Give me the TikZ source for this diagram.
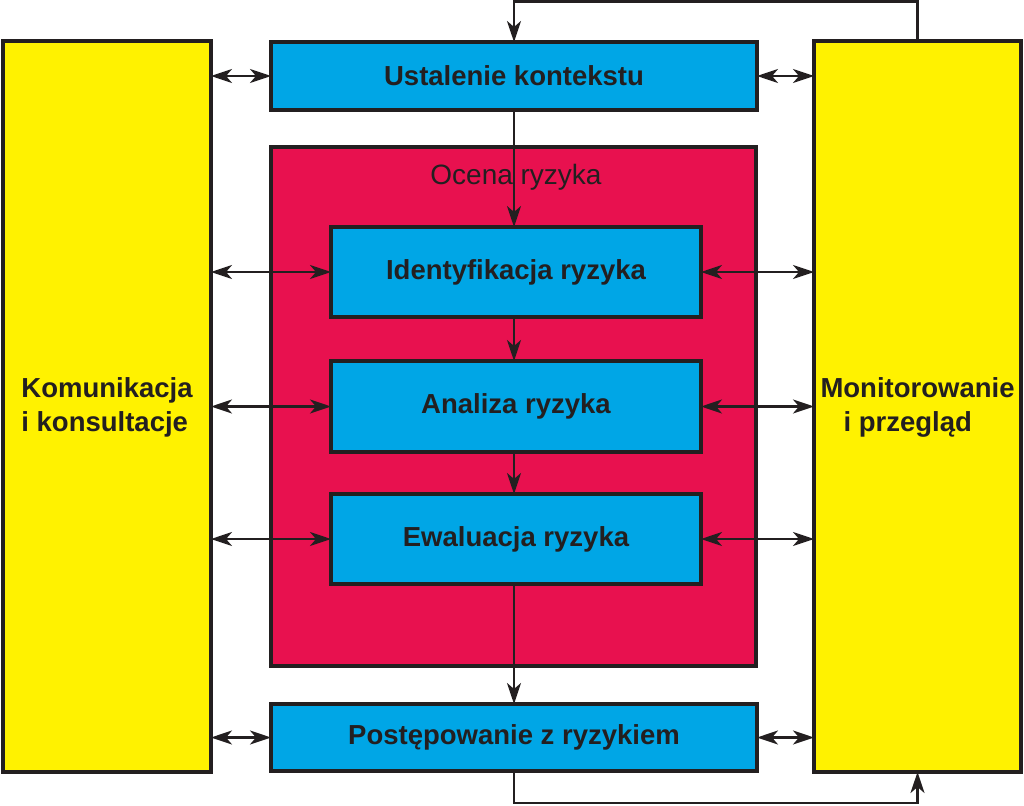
\documentclass[tikz,border=0pt]{standalone}
\usepackage{fontspec}
\setmainfont{Liberation Sans}
\usetikzlibrary{arrows.meta}
\definecolor{ink}{HTML}{231F20}
\definecolor{ryel}{HTML}{FFF200}
\definecolor{rblue}{HTML}{00A6E6}
\definecolor{rred}{HTML}{E8114F}
\begin{document}
\begin{tikzpicture}[x=1pt,y=-1pt,
  box/.style={draw=ink,line width=3.5pt,rectangle,inner sep=0pt,outer sep=0pt,
    text=ink,font=\fontsize{27.5}{34}\selectfont\bfseries},
  sidebox/.style={box,fill=ryel},
  stagebox/.style={box,fill=rblue},
  conn/.style={draw=ink,line width=2.5pt,-{Stealth[length=21pt,width=14pt,inset=6pt]}},
  dbl/.style={draw=ink,line width=2.5pt,{Stealth[length=21pt,width=14pt,inset=6pt]}-{Stealth[length=21pt,width=14pt,inset=6pt]}}]
\useasboundingbox (0,0) rectangle (1024,805);
\fill[white] (0,0) rectangle (1024,805);
% side boxes
\node[sidebox,minimum width=208pt,minimum height=731pt] (komm) at (107,406.5) {};
\node[sidebox,minimum width=207pt,minimum height=731pt] (mon) at (917.5,406.5) {};
\node[text=ink,font=\fontsize{27.5}{34}\selectfont\bfseries,align=left,inner sep=0pt,text depth=0pt] (kommt) at ([yshift=2pt]komm.center) {Komunikacja\\i konsultacje};
\node[text=ink,font=\fontsize{27.5}{34}\selectfont\bfseries,align=left,inner sep=0pt,text depth=0pt] (mont) at ([yshift=2pt]mon.center) {Monitorowanie\\\hspace*{23pt}i przegląd};
% red assessment box
\node[box,fill=rred,minimum width=485pt,minimum height=519pt] (ocena) at (513.5,406.5) {};
\node[text=ink,font=\fontsize{28}{34}\selectfont,anchor=base,inner sep=0pt] (ocenat) at (516,184) {Ocena ryzyka};
% stage boxes
\node[stagebox,minimum width=486pt,minimum height=68pt] (ust) at (514,76) {Ustalenie kontekstu};
\node[stagebox,minimum width=370pt,minimum height=90pt] (ident) at (516,272) {Identyfikacja ryzyka};
\node[stagebox,minimum width=370pt,minimum height=91pt] (anal) at (516,406.5) {Analiza ryzyka};
\node[stagebox,minimum width=370pt,minimum height=90pt] (ewal) at (516,539) {Ewaluacja ryzyka};
\node[stagebox,minimum width=486pt,minimum height=67pt] (pos) at (514,737.5) {Postępowanie z ryzykiem};
% vertical flow
\draw[conn] (ust.south) -- (ident.north -| ust.south);
\draw[conn] (ident.south -| ust.south) -- (anal.north -| ust.south);
\draw[conn] (anal.south -| ust.south) -- (ewal.north -| ust.south);
\draw[conn] (ewal.south -| ust.south) -- (pos.north);
% loops
\coordinate (loopT) at (0,1.5);
\coordinate (loopB) at (0,803);
\draw[conn] (mon.north) -- (mon.north |- loopT) -| (ust.north);
\draw[conn] (pos.south) -- (pos.south |- loopB) -| (mon.south);
% horizontal double arrows
\foreach \b in {ust,ident,anal,ewal,pos}{
  \draw[dbl] (komm.east |- \b.west) -- (\b.west);
  \draw[dbl] (\b.east) -- (mon.west |- \b.east);
}
\end{tikzpicture}
\end{document}
